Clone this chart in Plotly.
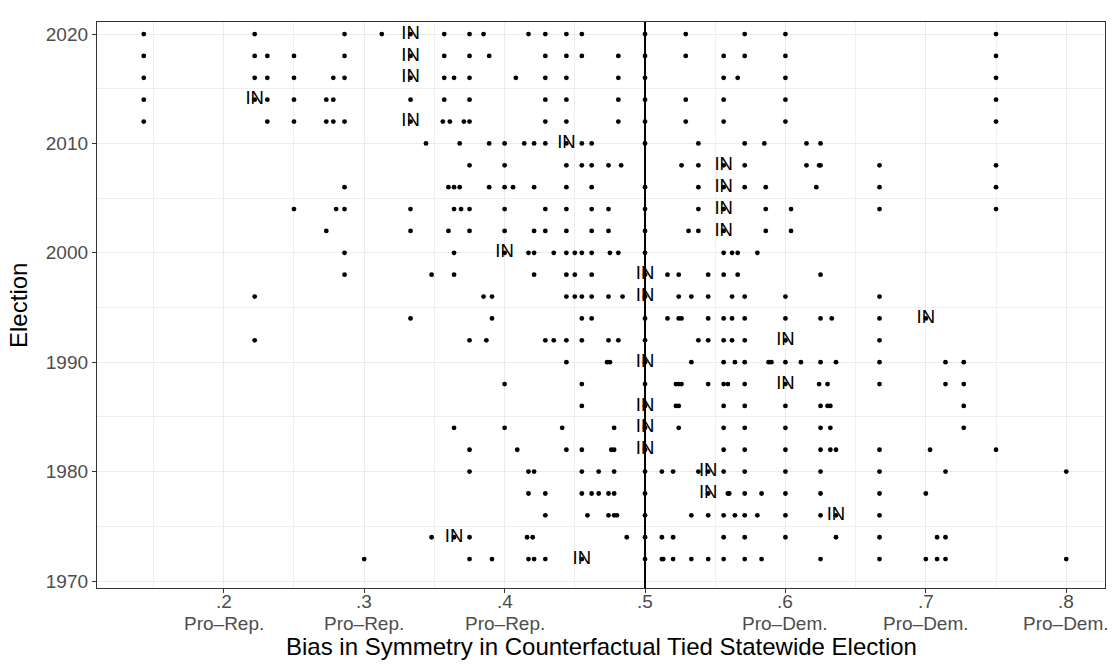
import plotly.graph_objects as go

# Bias values by election year (one dot per state)
e2020 = [0.143, 0.222, 0.286, 0.3125, 0.333, 0.357, 0.375, 0.385, 0.417, 0.429, 0.444, 0.455, 0.5, 0.529, 0.571, 0.6, 0.75]
e2018 = [0.143, 0.222, 0.231, 0.25, 0.286, 0.333, 0.357, 0.375, 0.389, 0.429, 0.444, 0.455, 0.481, 0.5, 0.529, 0.556, 0.571, 0.6, 0.75]
e2016 = [0.143, 0.222, 0.231, 0.25, 0.278, 0.286, 0.333, 0.357, 0.364, 0.375, 0.408, 0.429, 0.444, 0.481, 0.5, 0.556, 0.566, 0.6, 0.75]
e2014 = [0.143, 0.222, 0.231, 0.25, 0.273, 0.278, 0.333, 0.357, 0.375, 0.429, 0.444, 0.481, 0.5, 0.529, 0.556, 0.6, 0.75]
e2012 = [0.143, 0.231, 0.25, 0.273, 0.278, 0.286, 0.333, 0.356, 0.361, 0.371, 0.375, 0.429, 0.444, 0.481, 0.5, 0.529, 0.556, 0.6, 0.75]
e2010 = [0.344, 0.368, 0.389, 0.4, 0.414, 0.421, 0.429, 0.444, 0.455, 0.462, 0.5, 0.538, 0.571, 0.585, 0.615, 0.625]
e2008 = [0.375, 0.4, 0.444, 0.455, 0.462, 0.474, 0.483, 0.526, 0.538, 0.556, 0.571, 0.615, 0.624, 0.625, 0.667, 0.75]
e2006 = [0.286, 0.36, 0.364, 0.368, 0.389, 0.4, 0.406, 0.421, 0.444, 0.462, 0.5, 0.538, 0.556, 0.571, 0.586, 0.622, 0.667, 0.75]
e2004 = [0.25, 0.28, 0.286, 0.333, 0.364, 0.369, 0.375, 0.4, 0.429, 0.444, 0.462, 0.474, 0.5, 0.538, 0.556, 0.586, 0.604, 0.667, 0.75]
e2002 = [0.273, 0.333, 0.36, 0.375, 0.4, 0.421, 0.429, 0.444, 0.462, 0.474, 0.5, 0.531, 0.538, 0.556, 0.586, 0.604]
e2000 = [0.286, 0.364, 0.4, 0.417, 0.421, 0.435, 0.444, 0.45, 0.455, 0.462, 0.475, 0.481, 0.5, 0.556, 0.562, 0.566, 0.58]
e1998 = [0.286, 0.348, 0.364, 0.421, 0.444, 0.45, 0.462, 0.5, 0.516, 0.524, 0.545, 0.556, 0.566, 0.625]
e1996 = [0.222, 0.385, 0.391, 0.444, 0.45, 0.455, 0.462, 0.474, 0.484, 0.5, 0.524, 0.533, 0.545, 0.562, 0.571, 0.6, 0.667]
e1994 = [0.333, 0.391, 0.455, 0.462, 0.5, 0.516, 0.524, 0.526, 0.545, 0.556, 0.562, 0.571, 0.6, 0.625, 0.633, 0.667, 0.7]
e1992 = [0.222, 0.375, 0.387, 0.429, 0.435, 0.444, 0.455, 0.474, 0.481, 0.5, 0.538, 0.545, 0.556, 0.562, 0.571, 0.6, 0.667]
e1990 = [0.444, 0.473, 0.475, 0.5, 0.533, 0.556, 0.564, 0.571, 0.588, 0.59, 0.6, 0.611, 0.625, 0.636, 0.667, 0.714, 0.727]
e1988 = [0.4, 0.455, 0.5, 0.522, 0.524, 0.526, 0.545, 0.556, 0.559, 0.571, 0.6, 0.624, 0.63, 0.667, 0.714, 0.727]
e1986 = [0.455, 0.5, 0.522, 0.524, 0.556, 0.571, 0.6, 0.625, 0.63, 0.632, 0.727]
e1984 = [0.364, 0.4, 0.441, 0.478, 0.5, 0.524, 0.556, 0.571, 0.6, 0.625, 0.632, 0.727]
e1982 = [0.375, 0.409, 0.444, 0.455, 0.476, 0.478, 0.5, 0.556, 0.571, 0.6, 0.625, 0.632, 0.636, 0.667, 0.703, 0.75]
e1980 = [0.375, 0.417, 0.421, 0.455, 0.467, 0.478, 0.5, 0.512, 0.52, 0.538, 0.545, 0.556, 0.571, 0.6, 0.625, 0.667, 0.714, 0.8]
e1978 = [0.417, 0.429, 0.455, 0.462, 0.467, 0.474, 0.478, 0.5, 0.545, 0.559, 0.56, 0.571, 0.583, 0.6, 0.625, 0.667, 0.7]
e1976 = [0.429, 0.459, 0.474, 0.478, 0.48, 0.5, 0.533, 0.545, 0.556, 0.564, 0.571, 0.58, 0.6, 0.625, 0.636, 0.667]
e1974 = [0.348, 0.364, 0.375, 0.416, 0.42, 0.487, 0.5, 0.512, 0.52, 0.556, 0.571, 0.6, 0.636, 0.667, 0.708, 0.714]
e1972 = [0.3, 0.375, 0.391, 0.417, 0.421, 0.429, 0.455, 0.5, 0.512, 0.513, 0.52, 0.533, 0.545, 0.556, 0.571, 0.583, 0.625, 0.667, 0.7, 0.708, 0.714, 0.8]

years = list(range(1972, 2021, 2))
by_year = [e1972, e1974, e1976, e1978, e1980, e1982, e1984, e1986, e1988, e1990,
           e1992, e1994, e1996, e1998, e2000, e2002, e2004, e2006, e2008, e2010,
           e2012, e2014, e2016, e2018, e2020]

# Indiana's value in each election
in_years = [2020, 2018, 2016, 2014, 2012, 2010, 2008, 2006, 2004, 2002, 2000, 1998, 1996,
            1994, 1992, 1990, 1988, 1986, 1984, 1982, 1980, 1978, 1976, 1974, 1972]
in_values = [0.333, 0.333, 0.333, 0.222, 0.333, 0.444, 0.556, 0.556, 0.556, 0.556, 0.4, 0.5, 0.5,
             0.7, 0.6, 0.5, 0.6, 0.5, 0.5, 0.5, 0.545, 0.545, 0.636, 0.364, 0.455]

# Axis ticks: numeric label plus the direction of the bias underneath
x_ticks = [0.2, 0.3, 0.4, 0.5, 0.6, 0.7, 0.8]
x_numbers = [".2", ".3", ".4", ".5", ".6", ".7", ".8"]
x_sides = ["Pro\u2013Rep.", "Pro\u2013Rep.", "Pro\u2013Rep.", "",
           "Pro\u2013Dem.", "Pro\u2013Dem.", "Pro\u2013Dem."]
y_ticks = [1970, 1980, 1990, 2000, 2010, 2020]

xs, ys = [], []
for yr, vals in zip(years, by_year):
    xs.extend(vals)
    ys.extend([yr] * len(vals))

FONT = "Liberation Sans, Arial, Helvetica, sans-serif"
TICK_FONT = dict(family=FONT, size=19, color="#4D4D4D")

fig = go.Figure()
fig.add_trace(go.Scatter(
    x=xs, y=ys, mode="markers",
    marker=dict(color="black", size=4.8, line=dict(width=0)),
    hoverinfo="x+y", showlegend=False,
))
fig.add_trace(go.Scatter(
    x=in_values, y=in_years, mode="text", text=["IN"] * len(in_values),
    textposition="middle center",
    textfont=dict(family=FONT, size=18.5, color="black"),
    showlegend=False, hoverinfo="skip",
))

# vertical reference line at a perfectly symmetric .5
fig.add_shape(type="line", x0=0.5, x1=0.5, xref="x", y0=0, y1=1, yref="paper",
              line=dict(color="black", width=2), layer="above")

axis_common = dict(
    showline=True, linecolor="#333333", linewidth=1.3, mirror=True,
    ticks="outside", ticklen=4, tickcolor="#333333", tickwidth=1.1,
    showgrid=True, gridcolor="#EBEBEB", gridwidth=1.3, zeroline=False,
    tickfont=TICK_FONT,
)

# two-line x tick labels drawn as annotations anchored to the tick values
x_label_notes = []
for v, num, side in zip(x_ticks, x_numbers, x_sides):
    x_label_notes.append(dict(text=num, xref="x", yref="paper", x=v, y=-0.0230,
                              xanchor="center", yanchor="middle", showarrow=False,
                              font=TICK_FONT))
    if side:
        x_label_notes.append(dict(text=side, xref="x", yref="paper", x=v, y=-0.0625,
                                  xanchor="center", yanchor="middle", showarrow=False,
                                  font=TICK_FONT))

fig.update_layout(
    width=1115, height=667,
    margin=dict(l=97, r=10, t=22, b=79),
    paper_bgcolor="white", plot_bgcolor="white",
    font=dict(family=FONT),
    xaxis=dict(
        range=[0.1097, 0.8276], tickvals=x_ticks, showticklabels=False,
        minor=dict(tickvals=[0.15, 0.25, 0.35, 0.45, 0.55, 0.65, 0.75],
                   showgrid=True, gridcolor="#EFEFEF", gridwidth=0.7, ticks=""),
        **axis_common,
    ),
    yaxis=dict(
        range=[1969.36, 2021.1], tickvals=y_ticks,
        minor=dict(tickvals=[1975, 1985, 1995, 2005, 2015],
                   showgrid=True, gridcolor="#EFEFEF", gridwidth=0.7, ticks=""),
        **axis_common,
    ),
    annotations=x_label_notes + [
        dict(text="Bias in Symmetry in Counterfactual Tied Statewide Election",
             xref="paper", yref="paper", x=0.5, y=-0.1025,
             xanchor="center", yanchor="middle", showarrow=False,
             font=dict(family=FONT, size=24, color="black")),
        dict(text="Election", xref="paper", yref="paper", x=-0.0784, y=0.5,
             xanchor="center", yanchor="middle", textangle=-90, showarrow=False,
             font=dict(family=FONT, size=24, color="black")),
    ],
)

fig.write_html("out.html")
